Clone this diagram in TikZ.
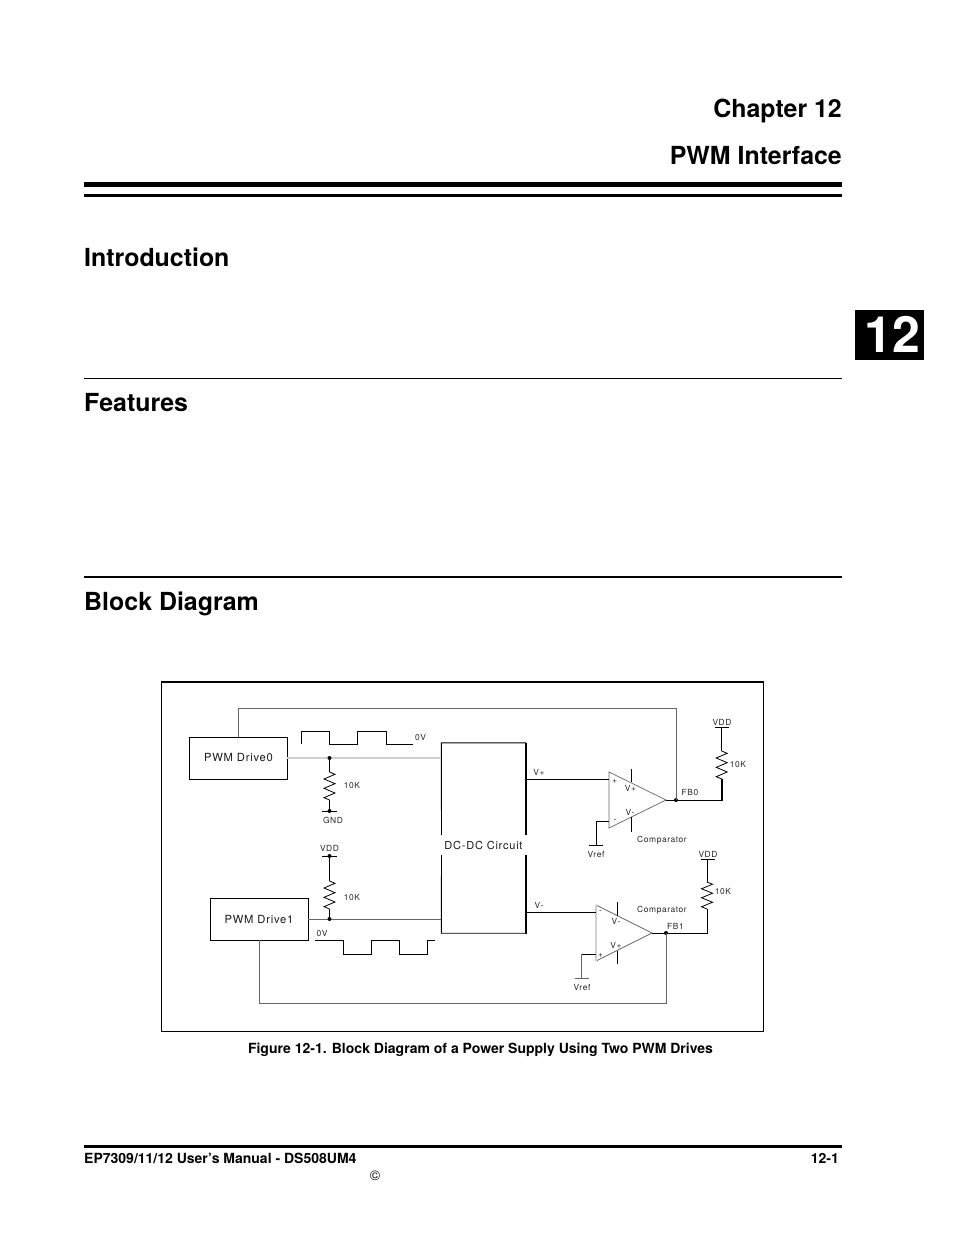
\documentclass[tikz,border=0pt]{standalone}
\usepackage{fontspec}
\setmainfont{TeX Gyre Heros}
\newfontfamily\labf[LetterSpace=7]{TeX Gyre Heros}
\newcommand{\fsz}[1]{\fontsize{#1}{#1}\selectfont}
\newcommand{\zigres}[4][black]{%
 \pgfmathsetmacro{\zc}{#2}\pgfmathsetmacro{\zt}{#3}\pgfmathsetmacro{\zh}{(#4-#3)/12}%
 \draw[wire,#1] (\zc,\zt) -- ++(5.5,\zh) -- ++(-11,2*\zh) -- ++(11,2*\zh) -- ++(-11,2*\zh) -- ++(11,2*\zh) -- ++(-11,2*\zh) -- ++(5.5,\zh);}
\tikzset{
 x=1pt,y=-1pt,
 wire/.style={line width=0.8pt,line join=miter},
 graywire/.style={line width=0.8pt,draw=black!60},
 lightwire/.style={line width=1.2pt,draw=black!18},
 headr/.style={inner sep=0pt,anchor=base east,font=\bfseries\fsz{24.9}},
 headl/.style={inner sep=0pt,anchor=base west,font=\bfseries\fsz{24.9}},
 foot/.style={inner sep=0pt,font=\bfseries\fsz{14}},
 lab/.style={inner sep=0pt,text=black!85,font=\labf\fsz{8.4}},
 blab/.style={inner sep=0pt,text=black!90,font=\labf\fsz{11.2}},
 block/.style={draw,line width=0.8pt,minimum height=0pt,inner sep=0pt,fill=white},
 dot/.style={circle,fill=black,inner sep=0pt,minimum size=4pt},
 amp/.style={draw=black!60,line width=0.7pt,line join=miter},
}
\begin{document}
\begin{tikzpicture}
\useasboundingbox (0,0) rectangle (954,1235);
\fill[white] (0,0) rectangle (954,1235);
% page furniture
\node[headr] (ch) at (842,117) {Chapter 12};
\node[headr] (pw) at (842,164) {PWM Interface};
\fill (84,182) rectangle (842,187);
\fill (84,194) rectangle (842,196.5);
\node[headl] (in) at (84,266) {Introduction};
\fill (84,378) rectangle (842,379);
\node[headl] (fe) at (84,411) {Features};
\fill (84,576) rectangle (842,578);
\node[headl] (bd) at (84,610) {Block Diagram};
\fill (855,309.5) rectangle (924,359.5);
\node[inner sep=0pt,anchor=base,text=white,font=\bfseries\fsz{50}] (tab) at (892,352) {12};
% frame
\draw[line width=0.8pt] (161.5,1031.5) -- (161.5,681) (161,1031.5) -- (763.5,1031.5) -- (763.5,681);
\draw[line width=2pt] (161,681.5) -- (764,681.5);
% boxes
\node[block,minimum width=98pt,minimum height=42pt] (d0) at (238,758) {};
\node[blab] (d0t) at (238.5,757.5) {PWM Drive0};
\draw[line width=1.6pt] (d0.south west) -- (d0.south east);
\node[block,minimum width=98pt,minimum height=42pt] (d1) at (259,919) {};
\node[blab] (d1t) at (259,919.5) {PWM Drive1};
\node[inner sep=0pt,minimum width=84.5pt,minimum height=190pt] (dc) at (483.75,838) {};
\node[blab,font=\labf\fsz{11}] (dct) at (483.5,845.5) {DC-DC Circuit};
\draw[line width=0.9pt] (441.5,835) -- (dc.north west) -- (dc.north east);
\draw[line width=0.9pt] (441.5,855) -- (dc.south west) -- (dc.south east);
\draw[line width=1.8pt] (526,743) -- (526,835) (526,855) -- (526,933.8);
% left drive 0
\coordinate (j0) at (329.5,758);
\coordinate (dcl0) at (441,758);
\draw[lightwire] (d0.east |- j0) -- (dcl0);
\node[dot] (j0d) at (j0) {};
\zigres{329.5}{772}{800}
\coordinate (g0) at (329.5,811);
\draw[wire] (j0) -- (329.5,772) (329.5,800) -- (g0);
\node[dot] (g0d) at (g0) {};
\draw[wire] (322,811) -- (337,811);
\node[lab] (gnd) at (333,820.5) {GND};
\node[lab] (r0) at (352,785.5) {10K};
\draw[wire] (301,744) -- (301,731) -- (329.5,731) -- (329.5,744) -- (357.5,744) -- (357.5,731) -- (386.5,731) -- (386.5,744) -- (413,744);
\node[lab] (v0a) at (420.5,737.5) {0V};
% left drive 1
\coordinate (j1) at (329.5,919);
\coordinate (dcl1) at (441,919);
\draw[graywire] (d1.east |- j1) -- (dcl1);
\coordinate (v1) at (329.5,856);
\draw[line width=1pt] (v1) -- (329.5,881);
\zigres{329.5}{881}{909}
\draw[wire] (329.5,909) -- (j1);
\node[dot] (j1d) at (j1) {};
\node[dot] (v1d) at (v1) {};
\draw[wire] (322,856) -- (337,856);
\node[lab] (vdda) at (329.5,848.5) {VDD};
\node[lab] (r1) at (352,897.5) {10K};
\node[lab] (v0b) at (322,933.5) {0V};
\draw[wire] (315,940) -- (343,940) -- (343,954.5) -- (371.5,954.5) -- (371.5,940) -- (399.5,940) -- (399.5,954.5) -- (427.5,954.5) -- (427.5,940) -- (435,940);
% comparator 0
\coordinate (a0a) at (609,772);
\coordinate (a0b) at (609,828);
\coordinate (a0o) at (666,800);
\draw[amp] (a0a) -- (a0o) -- (a0b) -- cycle;
\draw[wire] (526,779) -- (609,779);
\node[lab] (vp) at (539,772.5) {V+};
\draw[wire] (631,769) -- (631,782) (631,817) -- (631,832);
\node[lab] (a0p) at (630.5,788.5) {V+};
\node[lab] (a0m) at (630,812) {V-};
\node[lab] (a0ip) at (614.5,781) {+};
\node[lab] (a0im) at (615,821) {-};
\coordinate (fb0) at (676,800);
\draw[wire] (a0o) -- (fb0);
\draw[line width=1pt] (fb0) -- (721.7,800);
\draw[line width=1.6pt] (721.7,800.5) -- (721.7,779);
\zigres{721.7}{751}{779}
\draw[wire] (721.7,751) -- (721.7,727);
\draw[wire] (715,727) -- (729,727);
\node[lab] (vddb) at (722,722.5) {VDD};
\node[lab] (r2) at (738,764.5) {10K};
\node[lab] (fb0t) at (690,792.5) {FB0};
\node[dot] (fb0d) at (fb0) {};
\draw[graywire] (d0.north -| 238,737) -- (238,708) -- (676,708) -- (fb0);
\draw[wire] (609,821) -- (596,821) -- (596,845);
\draw[wire] (589,845.2) -- (603,845.2);
\node[lab] (vr0) at (596,854.5) {Vref};
\node[lab] (c0) at (662,840.5) {Comparator};
% comparator 1
\coordinate (a1a) at (596,905);
\coordinate (a1b) at (596,961);
\coordinate (a1o) at (652,933);
\draw[amp] (a1a) -- (a1o) -- (a1b);
\draw[lightwire] (a1a) -- (a1b);
\draw[wire] (526,912) -- (596,912);
\node[lab] (vm) at (539,905.5) {V-};
\draw[wire] (617,902) -- (617,916) (617,951) -- (617,964);
\node[lab] (a1m) at (616,921.5) {V-};
\node[lab] (a1p) at (616,945.5) {V+};
\node[lab] (a1im) at (600.5,912.5) {-};
\node[lab] (a1ip) at (600.5,955) {+};
\coordinate (fb1) at (666,933);
\draw[wire] (a1o) -- (fb1) -- (707,933) -- (707,909);
\zigres{707}{882}{909}
\draw[wire] (707,882) -- (707,859);
\draw[wire] (700.5,859) -- (715,859);
\node[lab] (vddc) at (708,854.5) {VDD};
\node[lab] (r3) at (723,891.5) {10K};
\node[lab] (fb1t) at (675.5,926.5) {FB1};
\node[lab] (c1) at (662,910.5) {Comparator};
\node[dot] (fb1d) at (fb1) {};
\draw[graywire] (d1.south -| 259,940) -- (259,1003) -- (666,1003) -- (fb1);
\draw[wire] (596,954) -- (581.5,954);
\draw[line width=0.7pt,draw=black!60] (581.5,954) -- (581.5,978) (574.5,978) -- (589,978);
\node[lab] (vr1) at (582,987.5) {Vref};
% caption and footer
\node[foot] (cap) at (480.5,1050) {Figure 12-1. Block Diagram of a Power Supply Using Two PWM Drives};
\fill (84,1145) rectangle (842,1147.5);
\node[foot,anchor=base west] (fl) at (84,1163) {EP7309/11/12 User’s Manual - DS508UM4};
\node[foot,anchor=base east] (fr) at (839,1163) {12-1};
\node[inner sep=0pt,font=\fsz{14}] (cp) at (375,1176) {©};
\end{tikzpicture}
\end{document}
